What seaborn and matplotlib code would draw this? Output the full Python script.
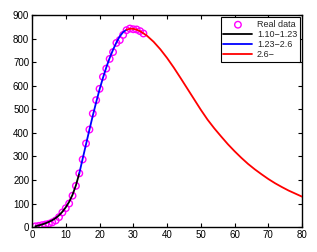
import matplotlib
matplotlib.use("Agg")
import matplotlib.pyplot as plt
import seaborn as sns
import pandas as pd

# Real data (days 1..33)
real_days = list(range(1, 34))
real_vals = [3, 5, 8, 11, 14, 20, 28, 42, 62, 80, 100, 133, 175, 228, 287,
             355, 414, 482, 539, 587, 638, 673, 714, 743, 782, 794, 816, 836,
             843, 840, 839, 832, 822]

# Fitted segment 1.10-1.23
black_x = [1, 2, 3, 4, 5, 6, 7, 8, 9, 10, 11, 12, 13, 14]
black_y = [3, 7, 11, 16, 22, 29, 38, 50, 65, 84, 107, 137, 177, 228]

# Fitted segment 1.23-2.6
blue_x = [14, 15, 16, 17, 18, 19, 20, 21, 22, 23, 24, 25, 26, 27, 28]
blue_y = [228, 290, 352, 413, 473, 530, 584, 633, 678, 718, 753, 784, 810, 828, 838]

# Fitted segment 2.6-
red_x = [28, 29, 30, 31, 32, 34, 36, 38, 40, 42, 44, 46, 48, 50, 52, 54, 56,
         58, 60, 62, 64, 66, 68, 70, 72, 74, 76, 78, 80]
red_y = [838, 842, 842, 838, 832, 813, 787, 755, 718, 677, 633, 588, 543, 498,
         456, 419, 385, 352, 322, 294, 268, 245, 224, 204, 186, 170, 155, 142, 129]

sns.set_style("ticks")
plt.rcParams['font.family'] = ['Liberation Sans', 'DejaVu Sans']

fig = plt.figure(figsize=(3.17, 2.52), dpi=100)
ax = fig.add_axes([0.101, 0.099, 0.852, 0.841])

sns.scatterplot(x=real_days, y=real_vals, ax=ax, marker='o', s=22,
                facecolors='none', edgecolor='#ff00ff', linewidth=1.0,
                label='Real data', zorder=2)
sns.lineplot(x=black_x, y=black_y, ax=ax, color='black', linewidth=1.3,
             label='1.10\u22121.23', zorder=3)
sns.lineplot(x=blue_x, y=blue_y, ax=ax, color='#0000ff', linewidth=1.3,
             label='1.23\u22122.6', zorder=3)
sns.lineplot(x=red_x, y=red_y, ax=ax, color='#ff0000', linewidth=1.3,
             label='2.6\u2212', zorder=3)

ax.set_xlim(0, 80)
ax.set_ylim(0, 900)
ax.set_xticks(range(0, 81, 10))
ax.set_yticks(range(0, 901, 100))
ax.tick_params(direction='in', length=3, width=0.8, labelsize=7, pad=2,
               top=True, right=True, colors='black')
for sp in ax.spines.values():
    sp.set_visible(True)
    sp.set_linewidth(1.0)
    sp.set_color('black')

leg = ax.legend(loc='upper right', fontsize=6.5, frameon=True, fancybox=False,
                edgecolor='black', framealpha=1, borderpad=0.3,
                handlelength=3.2, handletextpad=0.5, labelspacing=0.1,
                borderaxespad=0.25, scatterpoints=1)
leg.get_frame().set_linewidth(0.8)

fig.savefig("out.png", dpi=100)
